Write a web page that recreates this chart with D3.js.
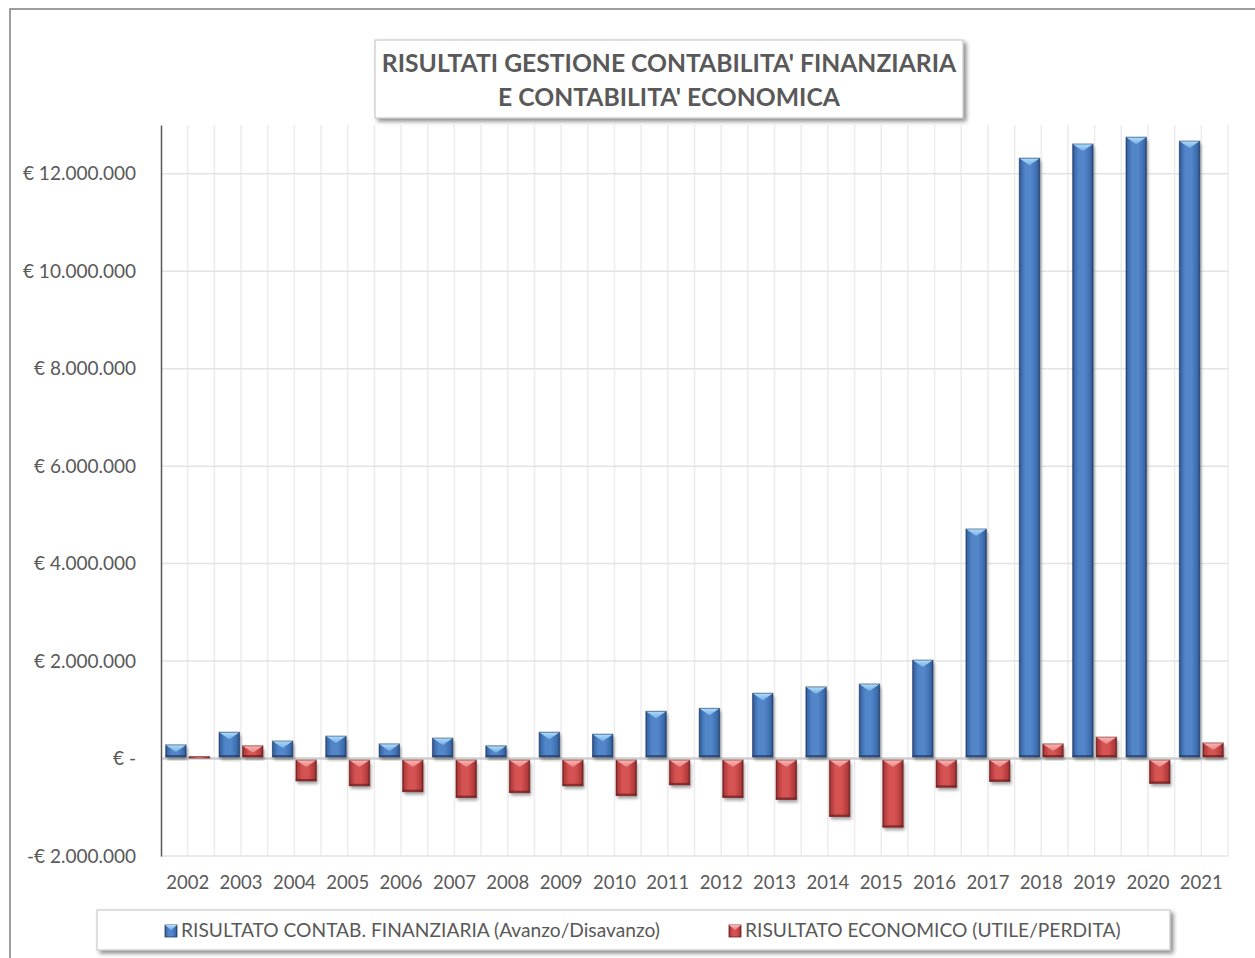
<!DOCTYPE html>
<html>
<head>
<meta charset="utf-8">
<script src="https://cdn.jsdelivr.net/npm/d3@7"></script>
<style>
body { margin: 0; background: #fff; }
text { font-family: Lato, "Open Sans", sans-serif; fill: #595959; }
</style>
</head>
<body>
<div id="container"></div>
<script>
// data
var years = ["2002","2003","2004","2005","2006","2007","2008","2009","2010","2011",
	     "2012","2013","2014","2015","2016","2017","2018","2019","2020","2021"];
var finanziaria = [270000, 530000, 350000, 450000, 290000, 410000, 250000, 530000, 490000, 960000,
		   1020000, 1330000, 1460000, 1520000, 2010000, 4700000, 12310000, 12600000, 12740000, 12660000];
var economico = [30000, 250000, -450000, -550000, -670000, -790000, -690000, -550000, -750000, -530000,
		 -790000, -830000, -1180000, -1400000, -580000, -460000, 290000, 430000, -500000, 310000];
var yTicks = [-2000000, 0, 2000000, 4000000, 6000000, 8000000, 10000000, 12000000];
var seriesNames = ["RISULTATO CONTAB. FINANZIARIA (Avanzo/Disavanzo)",
		   "RISULTATO ECONOMICO (UTILE/PERDITA)"];
var titleLines = ["RISULTATI GESTIONE CONTABILITA' FINANZIARIA",
		  "E CONTABILITA' ECONOMICA"];

var WIDTH = 1255, HEIGHT = 958;
var PLOT = { left: 161, right: 1228, top: 125, bottom: 856 };

var COLORS = {
    fin: { edge: "#233f6a", dark: "#3a69ab", mid: "#5286c9", light: "#b0dcf8", lightEnd: "#74afe6" },
    eco: { edge: "#6e1f1f", dark: "#b03a3a", mid: "#d65252", light: "#f9b6b3", lightEnd: "#e58585" }
};

var svg = d3.select("#container").append("svg")
    .attr("width", WIDTH)
    .attr("height", HEIGHT);

var defs = svg.append("defs");

var shadow = function( id, dx, dy, sd, op )
{
    defs.append("filter")
	.attr("id", id)
	.attr("x", "-30%").attr("y", "-30%")
	.attr("width", "160%").attr("height", "160%")
	.append("feDropShadow")
	.attr("dx", dx).attr("dy", dy)
	.attr("stdDeviation", sd)
	.attr("flood-color", "#000")
	.attr("flood-opacity", op);
}
shadow("barShadow", 1.5, 3, 1.8, 0.35);
shadow("boxShadow", 3, 3, 2, 0.45);

var gradients = function( key )
{
    var c = COLORS[key];
    var body = defs.append("linearGradient")
	.attr("id", key + "-body")
	.attr("x1", "0").attr("x2", "1").attr("y1", "0").attr("y2", "0");
    [[0, c.edge], [0.08, c.dark], [0.3, c.mid], [0.6, c.mid], [0.9, c.dark], [1, c.edge]]
	.forEach(function(s){
	    body.append("stop").attr("offset", s[0]).attr("stop-color", s[1]);
	});
    var top = defs.append("linearGradient")
	.attr("id", key + "-top")
	.attr("x1", "0").attr("x2", "0").attr("y1", "0").attr("y2", "1");
    top.append("stop").attr("offset", 0).attr("stop-color", c.light);
    top.append("stop").attr("offset", 1).attr("stop-color", c.lightEnd);
}
gradients("fin");
gradients("eco");

// outer chart border
svg.append("rect")
    .attr("x", 10).attr("y", 9)
    .attr("width", WIDTH + 50).attr("height", HEIGHT + 50)
    .attr("fill", "none")
    .attr("stroke", "#7f7f7f")
    .attr("stroke-width", 1.5);

var x0 = d3.scaleBand()
    .domain(years)
    .range([PLOT.left, PLOT.right]);

var x1 = d3.scaleBand()
    .domain(["fin", "eco"])
    .range([0, x0.bandwidth()])
    .paddingInner(0.13)
    .paddingOuter(0.2);

var y = d3.scaleLinear()
    .domain([-2000000, 13000000])
    .range([PLOT.bottom, PLOT.top]);

var euro = function( v )
{
    if ( v === 0 ) return "€ -";
    var s = d3.format(",")(Math.abs(v)).replace(/,/g, ".");
    return ( v < 0 ? "-€ " : "€ " ) + s;
}

var grid = svg.append("g").classed("grid", true);

// vertical gridlines at every half category
var half = d3.range(1, years.length * 2 + 1).map(function(i){
    return PLOT.left + i * x0.bandwidth() / 2;
});
grid.selectAll("line.vgrid")
    .data(half)
    .enter()
    .append("line")
    .classed("vgrid", true)
    .attr("x1", function(d){ return d; })
    .attr("x2", function(d){ return d; })
    .attr("y1", PLOT.top)
    .attr("y2", PLOT.bottom)
    .attr("stroke", "#ececec")
    .attr("stroke-width", 1.5);

grid.selectAll("line.hgrid")
    .data(yTicks)
    .enter()
    .append("line")
    .classed("hgrid", true)
    .attr("x1", PLOT.left)
    .attr("x2", PLOT.right)
    .attr("y1", function(d){ return y(d); })
    .attr("y2", function(d){ return y(d); })
    .attr("stroke", function(d){ return d === 0 ? "#cfcfcf" : "#e3e3e3"; })
    .attr("stroke-width", function(d){ return d === 0 ? 2.5 : 1.5; });

// y axis
var yAxis = svg.append("g")
    .attr("transform", "translate(" + PLOT.left + ",0)")
    .call(d3.axisLeft(y).tickValues(yTicks).tickFormat(euro).tickSize(0).tickPadding(25));
yAxis.select(".domain")
    .attr("stroke", "#595959")
    .attr("stroke-width", 1.5);
yAxis.selectAll("text")
    .style("font-size", "19px")
    .attr("fill", "#595959");

// x axis labels
var xAxis = svg.append("g")
    .attr("transform", "translate(0," + PLOT.bottom + ")")
    .call(d3.axisBottom(x0).tickSize(0).tickPadding(20));
xAxis.select(".domain").remove();
xAxis.selectAll("text")
    .style("font-size", "18.5px")
    .attr("fill", "#595959");

// bars
var rows = years.map(function(yr, i){
    return [
	{ key: "fin", year: yr, value: finanziaria[i] },
	{ key: "eco", year: yr, value: economico[i] }
    ];
});

var draw_bar = function( d )
{
    var g = d3.select(this);
    var w = x1.bandwidth();
    var bx = x0(d.year) + x1(d.key);
    var y0 = y(0), yv = y(d.value);
    var top = Math.min(y0, yv) + (d.value > 0 ? -0.5 : 1.5);
    var h = Math.max(Math.abs(yv - y0) - 1, 1.5);
    var c = COLORS[d.key];

    g.append("rect")
	.attr("x", bx).attr("y", top)
	.attr("width", w).attr("height", h)
	.attr("fill", "url(#" + d.key + "-body)")
	.attr("filter", "url(#barShadow)");

    var tri = Math.min(7, h);
    g.append("path")
	.attr("d", "M" + bx + "," + top
	      + "L" + (bx + w) + "," + top
	      + "L" + (bx + w / 2) + "," + (top + tri) + "Z")
	.attr("fill", "url(#" + d.key + "-top)");

    if ( h > 4 )
	g.append("rect")
	.attr("x", bx).attr("y", top + h - 2)
	.attr("width", w).attr("height", 2)
	.attr("fill", c.edge)
	.attr("opacity", 0.7);

    g.append("rect")
	.attr("x", bx).attr("y", top)
	.attr("width", w).attr("height", h)
	.attr("fill", "none")
	.attr("stroke", c.edge)
	.attr("stroke-opacity", 0.6)
	.attr("stroke-width", 1);
}

svg.append("g").classed("bars", true)
    .selectAll("g.year")
    .data(rows)
    .enter()
    .append("g")
    .classed("year", true)
    .selectAll("g.bar")
    .data(function(d){ return d; })
    .enter()
    .append("g")
    .classed("bar", true)
    .each(draw_bar);

// title box
var tb = svg.append("g");
tb.append("rect")
    .attr("x", 375).attr("y", 40)
    .attr("width", 588).attr("height", 78)
    .attr("fill", "#fff")
    .attr("stroke", "#bfbfbf")
    .attr("filter", "url(#boxShadow)");
tb.selectAll("text")
    .data(titleLines)
    .enter()
    .append("text")
    .attr("x", 669)
    .attr("y", function(_, i){ return 72 + i * 34; })
    .attr("text-anchor", "middle")
    .style("font-size", "24.7px")
    .style("font-weight", "bold")
    .text(function(d){ return d; });

// legend
var lg = svg.append("g");
lg.append("rect")
    .attr("x", 97).attr("y", 910)
    .attr("width", 1073).attr("height", 40)
    .attr("fill", "#fff")
    .attr("stroke", "#bfbfbf")
    .attr("filter", "url(#boxShadow)");

var legendX = [165, 729];
var items = lg.selectAll("g.item")
    .data(["fin", "eco"])
    .enter()
    .append("g")
    .classed("item", true)
    .attr("transform", function(_, i){ return "translate(" + legendX[i] + ",925)"; });
items.append("rect")
    .attr("width", 12).attr("height", 12)
    .attr("fill", function(d){ return "url(#" + d + "-body)"; })
    .attr("stroke", function(d){ return COLORS[d].edge; })
    .attr("stroke-width", 0.8);
items.append("path")
    .attr("d", "M0,0L12,0L6,5Z")
    .attr("fill", function(d){ return "url(#" + d + "-top)"; });
items.append("text")
    .attr("x", 16)
    .attr("y", 12)
    .style("font-size", "19.2px")
    .text(function(_, i){ return seriesNames[i]; });
</script>
</body>
</html>
